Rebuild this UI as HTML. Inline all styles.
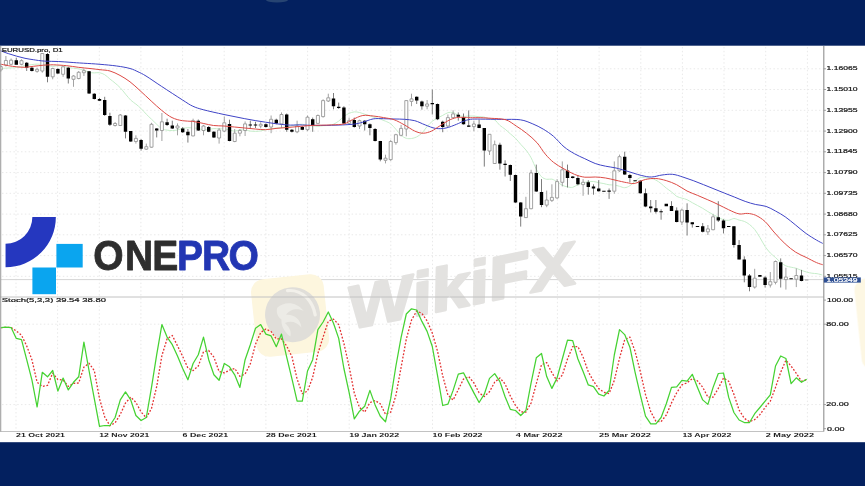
<!DOCTYPE html>
<html><head><meta charset="utf-8"><title>EURUSD.pro D1 - ONEPRO</title>
<style>html,body{margin:0;padding:0;background:#03205f;overflow:hidden}svg{display:block}</style>
</head><body>
<svg width="865" height="486" viewBox="0 0 865 486">
<rect width="865" height="486" fill="#03205f"/>
<ellipse cx="277" cy="0" rx="11" ry="2.6" fill="#2b4874" opacity="0.9"/>
<rect x="0" y="45.7" width="865" height="396.5" fill="#ffffff"/>
<g id="chart" filter="url(#bl)">
<path d="M2,68.8H823.8M2,89.5H823.8M2,110.3H823.8M2,131.1H823.8M2,151.8H823.8M2,172.6H823.8M2,193.3H823.8M2,214.1H823.8M2,234.8H823.8M2,255.6H823.8M2,276.3H823.8M2,324.2H823.8M2,404.6H823.8M16.0,47V296M16.0,298V431M57.6,47V296M57.6,298V431M99.3,47V296M99.3,298V431M140.9,47V296M140.9,298V431M182.6,47V296M182.6,298V431M224.2,47V296M224.2,298V431M265.9,47V296M265.9,298V431M307.6,47V296M307.6,298V431M349.2,47V296M349.2,298V431M390.8,47V296M390.8,298V431M432.5,47V296M432.5,298V431M474.1,47V296M474.1,298V431M515.8,47V296M515.8,298V431M557.4,47V296M557.4,298V431M599.1,47V296M599.1,298V431M640.8,47V296M640.8,298V431M682.4,47V296M682.4,298V431M724.0,47V296M724.0,298V431M765.7,47V296M765.7,298V431M807.4,47V296M807.4,298V431" stroke="#e9e9e9" stroke-width="1" stroke-dasharray="1.5 2.3" fill="none"/>
<path d="M1,279.6H823.8" stroke="#d6d6d6" stroke-width="1"/>
<g id="wm" opacity="1">
<g transform="translate(290,314.5) rotate(-6)"><rect x="-36.5" y="-38" width="73" height="78" rx="13" fill="#fdf6de"/><circle cx="2.5" cy="0.5" r="27.5" fill="#e0ded9"/><path d="M0,-24C14,-24 24,-12 25,3" stroke="#f2f0ea" stroke-width="3.2" fill="none" stroke-linecap="round"/><path d="M-12,-8C-4,-14 8,-12 14,-2C8,-6 0,-5 -4,0C4,0 10,6 10,14C6,8 0,6 -6,8C-2,12 0,18 -2,22C-8,16 -10,10 -9,4C-12,2 -14,-3 -12,-8Z" fill="#ecebe6"/></g>
<text transform="translate(352,329) rotate(-11.5)" font-family="Liberation Sans, sans-serif" font-weight="bold" font-style="italic" font-size="60" fill="#e3e2e0" stroke="#e3e2e0" stroke-width="2.4" stroke-linejoin="round" textLength="232" lengthAdjust="spacingAndGlyphs">WikiFX</text>
<rect x="857.5" y="279.5" width="40" height="92" rx="12" fill="#fdf7e3" transform="rotate(-6 858 320)"/>
</g>
<path d="M0.0,68.5C1.3,68.4 5.3,68.2 8.0,68.0C10.7,67.8 14.1,67.9 16.3,67.6C18.6,67.3 19.8,66.7 21.5,66.3C23.2,66.0 25.0,65.7 26.7,65.4C28.4,65.1 30.2,64.8 31.9,64.6C33.6,64.4 35.4,64.1 37.1,64.1C38.8,64.1 40.6,64.4 42.3,64.6C44.0,64.8 45.8,65.1 47.5,65.4C49.2,65.7 51.0,66.3 52.7,66.4C54.4,66.4 56.2,65.7 57.9,65.7C59.6,65.6 61.4,65.8 63.1,66.1C64.8,66.4 66.6,67.2 68.3,67.6C70.0,67.9 71.8,68.0 73.5,68.2C75.2,68.5 77.0,68.6 78.7,68.9C80.4,69.2 82.2,69.6 83.9,70.1C85.6,70.7 87.4,71.8 89.1,72.3C90.8,72.8 92.6,72.8 94.3,72.9C96.0,72.9 97.8,72.4 99.5,72.7C101.2,73.1 103.0,73.7 104.7,74.7C106.4,75.7 108.2,77.6 109.9,79.0C111.6,80.4 113.4,81.6 115.1,83.1C116.8,84.6 118.6,85.9 120.3,87.8C122.0,89.6 123.8,92.0 125.5,94.1C127.2,96.1 129.0,98.4 130.7,100.1C132.4,101.8 134.2,102.7 135.9,104.1C137.6,105.5 139.4,106.9 141.1,108.6C142.8,110.3 144.6,112.4 146.3,114.2C148.0,116.0 149.8,117.6 151.5,119.2C153.2,120.9 155.0,122.7 156.7,124.3C158.4,125.9 160.2,127.9 161.9,128.8C163.6,129.8 165.4,129.8 167.1,130.1C168.8,130.4 170.6,130.7 172.3,130.6C174.0,130.6 175.8,130.3 177.5,129.9C179.2,129.5 181.0,128.8 182.7,128.4C184.4,128.0 186.2,127.8 187.9,127.7C189.6,127.6 191.4,127.9 193.1,128.0C194.8,128.1 196.6,128.1 198.3,128.4C200.0,128.7 201.8,129.7 203.5,129.9C205.2,130.1 207.0,129.6 208.7,129.4C210.4,129.2 212.2,128.7 213.9,128.6C215.6,128.5 217.4,128.8 219.1,128.9C220.8,128.9 222.6,128.7 224.3,128.9C226.0,129.1 227.8,129.7 229.5,130.0C231.2,130.4 233.0,131.2 234.7,131.2C236.4,131.2 238.2,130.0 239.9,129.8C241.6,129.6 243.4,129.8 245.1,130.0C246.8,130.2 248.6,130.9 250.3,131.1C252.0,131.3 253.8,131.4 255.5,131.4C257.2,131.4 259.0,131.2 260.7,130.9C262.4,130.6 264.2,130.0 265.9,129.7C267.6,129.3 269.4,129.0 271.1,128.7C272.8,128.4 274.6,128.2 276.3,128.0C278.0,127.8 279.8,127.7 281.5,127.5C283.2,127.3 285.0,127.2 286.7,126.9C288.4,126.6 290.2,126.2 291.9,125.8C293.6,125.4 295.4,124.9 297.1,124.7C298.8,124.4 300.6,124.1 302.3,124.3C304.0,124.4 305.8,125.3 307.5,125.6C309.2,125.8 311.0,125.7 312.7,125.8C314.4,126.0 316.2,126.3 317.9,126.3C319.6,126.3 321.4,125.8 323.1,125.7C324.8,125.6 326.6,125.7 328.3,125.5C330.0,125.3 331.8,125.0 333.5,124.2C335.2,123.5 337.0,122.4 338.7,121.1C340.4,119.8 342.2,117.7 343.9,116.4C345.6,115.1 347.4,114.1 349.1,113.4C350.8,112.6 352.6,112.0 354.3,111.9C356.0,111.7 357.8,112.1 359.5,112.5C361.2,112.9 363.0,113.6 364.7,114.2C366.4,114.7 368.2,115.3 369.9,115.9C371.6,116.4 373.4,117.0 375.1,117.6C376.8,118.1 378.6,118.5 380.3,119.1C382.0,119.7 383.8,120.4 385.5,121.2C387.2,122.0 389.0,122.5 390.7,123.9C392.4,125.2 394.2,127.4 395.9,129.3C397.6,131.2 399.4,133.8 401.1,135.3C402.8,136.8 404.6,137.8 406.3,138.3C408.0,138.9 409.8,138.7 411.5,138.5C413.2,138.3 415.0,137.8 416.7,136.9C418.4,136.0 420.2,134.9 421.9,133.2C423.6,131.4 425.4,128.5 427.1,126.5C428.8,124.5 430.6,122.7 432.3,121.3C434.0,119.8 435.8,119.0 437.5,118.0C439.2,117.1 441.0,116.3 442.7,115.4C444.4,114.5 446.2,113.2 447.9,112.7C449.6,112.2 451.4,112.1 453.1,112.5C454.8,112.9 456.6,114.7 458.3,115.3C460.0,115.9 461.8,116.3 463.5,116.4C465.2,116.5 467.0,116.1 468.7,116.0C470.4,116.0 472.2,116.0 473.9,116.1C475.6,116.2 477.4,116.5 479.1,116.7C480.8,116.9 482.6,116.7 484.3,117.1C486.0,117.5 487.8,118.4 489.5,118.9C491.2,119.4 493.0,118.8 494.7,119.9C496.4,121.0 498.2,123.8 499.9,125.4C501.6,126.9 503.4,127.8 505.1,129.2C506.8,130.6 508.6,132.3 510.3,133.8C512.0,135.3 513.8,136.6 515.5,138.3C517.2,140.1 519.0,142.4 520.7,144.3C522.4,146.3 524.2,147.8 525.9,150.0C527.6,152.2 529.4,154.6 531.1,157.8C532.8,160.9 534.6,165.9 536.3,169.1C538.0,172.2 539.8,175.0 541.5,176.7C543.2,178.4 545.0,178.9 546.7,179.3C548.4,179.7 550.2,178.7 551.9,179.1C553.6,179.5 555.4,180.9 557.1,181.9C558.8,182.9 560.6,184.5 562.3,185.3C564.0,186.1 565.8,186.5 567.5,186.9C569.2,187.2 571.0,187.7 572.7,187.3C574.4,186.9 576.2,185.4 577.9,184.6C579.6,183.9 581.4,183.4 583.1,182.9C584.8,182.4 586.6,182.0 588.3,181.8C590.0,181.5 591.8,181.3 593.5,181.5C595.2,181.6 597.0,182.3 598.7,182.7C600.4,183.0 602.2,183.3 603.9,183.6C605.6,184.0 607.4,184.6 609.1,184.8C610.8,185.0 612.6,184.8 614.3,185.0C616.0,185.3 617.8,185.8 619.5,186.3C621.2,186.7 623.0,187.8 624.7,187.7C626.4,187.6 628.2,186.8 629.9,185.7C631.6,184.6 633.4,182.5 635.1,181.2C636.8,179.9 638.6,178.2 640.3,177.6C642.0,177.1 643.8,177.6 645.5,177.7C647.2,177.8 649.0,178.0 650.7,178.3C652.4,178.7 654.2,179.2 655.9,180.1C657.6,180.9 659.4,182.3 661.1,183.6C662.8,185.0 664.6,186.8 666.3,188.1C668.0,189.5 669.8,190.5 671.5,191.9C673.2,193.2 675.0,195.3 676.7,196.4C678.4,197.4 680.2,197.5 681.9,198.1C683.6,198.7 685.4,198.9 687.1,199.7C688.8,200.5 690.6,201.8 692.3,202.7C694.0,203.7 695.8,204.6 697.5,205.5C699.2,206.5 701.0,207.3 702.7,208.3C704.4,209.3 706.2,210.6 707.9,211.6C709.6,212.7 711.4,213.7 713.1,214.6C714.8,215.5 716.6,216.3 718.3,217.2C720.0,218.1 721.8,219.3 723.5,219.8C725.2,220.3 727.0,220.5 728.7,220.3C730.4,220.1 732.2,218.6 733.9,218.5C735.6,218.5 737.4,219.6 739.1,220.1C740.8,220.6 742.6,220.6 744.3,221.4C746.0,222.1 747.8,223.1 749.5,224.5C751.2,225.8 753.0,227.4 754.7,229.5C756.4,231.7 758.2,234.7 759.9,237.5C761.6,240.3 763.4,243.9 765.1,246.5C766.8,249.1 768.6,251.1 770.3,253.0C772.0,254.8 773.8,256.0 775.5,257.5C777.2,259.1 779.0,261.0 780.7,262.4C782.4,263.8 784.2,265.1 785.9,265.9C787.6,266.7 789.4,266.8 791.1,267.2C792.8,267.6 794.6,267.8 796.3,268.3C798.0,268.9 799.8,269.8 801.5,270.4C803.2,271.0 805.0,271.6 806.7,272.1C808.4,272.6 810.2,272.9 811.9,273.2C813.6,273.5 815.4,273.4 817.1,273.7C818.8,274.0 821.4,274.7 822.3,275.0" stroke="#c6edca" stroke-width="1" fill="none"/>
<rect x="805.0" y="279.5" width="3.4" height="1" fill="#999"/>
<path d="M0.7,64.0V66.5M0.7,70.0V72.0M5.9,56.0V60.5M5.9,65.0V66.5M11.1,58.5V60.2M11.1,64.3V65.2M21.5,59.3V60.7M21.5,64.3V65.2M37.1,67.7V69.3M37.1,71.3V72.7M42.3,53.0V53.5M42.3,71.0V72.7M52.7,67.7V68.5M52.7,76.8V79.3M63.1,66.0V66.8M63.1,74.3V76.8M73.5,75.2V76.0M73.5,79.3V86.8M78.7,71.0V72.3M78.7,78.5V79.3M83.9,68.5V70.7M83.9,72.7V76.0M115.1,122.0V123.5M115.1,125.5V126.5M120.3,114.0V115.0M120.3,125.5V126.0M135.9,135.3V138.4M135.9,141.5V143.6M146.3,143.6V146.7M146.3,149.2V150.0M151.5,122.8V124.3M151.5,147.2V147.8M161.9,113.0V121.8M161.9,130.5V141.0M177.5,123.4V126.0M177.5,128.0V135.3M193.1,118.7V120.7M193.1,135.9V136.3M203.5,124.9V126.0M203.5,130.5V135.3M219.1,128.0V130.1M219.1,138.0V143.6M224.3,116.6V122.8M224.3,131.1V132.2M234.7,129.0V133.2M234.7,141.5V142.2M239.9,129.0V130.5M239.9,133.2V136.3M245.1,121.4V123.9M245.1,130.5V136.0M260.7,122.2V124.3M260.7,126.0V128.4M271.1,115.5V119.3M271.1,127.0V133.2M281.5,112.4V114.5M281.5,123.9V128.0M297.1,120.7V126.0M297.1,131.8V133.2M307.5,115.5V117.2M307.5,129.7V131.1M317.9,114.5V115.5M317.9,123.4V123.9M323.1,99.3V100.6M323.1,116.6V117.6M328.3,93.7V97.8M328.3,101.0V102.0M349.1,117.6V120.7M349.1,123.4V124.3M359.5,119.7V120.7M359.5,126.0V129.0M385.5,154.7V158.2M385.5,160.3V163.4M390.7,140.1V141.5M390.7,159.6V160.9M395.9,133.8V134.7M395.9,142.6V144.7M401.1,124.9V128.4M401.1,135.3V136.3M406.3,100.0V100.6M406.3,129.0V136.3M411.5,93.7V98.9M411.5,101.4V106.2M427.1,100.0V104.0M427.1,106.2V109.3M447.9,114.5V117.6M447.9,126.0V127.0M453.1,110.3V113.9M453.1,117.6V118.7M473.9,120.8V124.0M473.9,126.6V131.2M489.5,134.0V134.3M489.5,151.0V155.0M494.7,140.6V144.7M494.7,163.5V164.0M525.9,196.8V208.7M525.9,217.6V218.0M531.1,169.8V172.9M531.1,208.7V209.3M546.7,190.6V200.0M546.7,205.1V207.2M551.9,184.3V197.4M551.9,200.4V202.0M557.1,179.1V181.6M557.1,197.9V198.9M562.3,161.4V169.8M562.3,182.3V186.4M583.1,179.1V182.3M583.1,184.6V195.8M614.3,161.4V170.8M614.3,191.2V193.7M619.5,154.6V156.7M619.5,170.8V171.8M681.9,208.5V210.1M681.9,222.0V225.0M707.9,225.0V228.9M707.9,231.8V235.0M713.1,214.3V216.8M713.1,229.7V230.3M754.7,268.8V278.2M754.7,287.1V288.6M770.3,272.0V281.7M770.3,285.0V287.5M775.5,260.5V261.5M775.5,282.3V284.4M785.9,267.8V277.1M785.9,279.6V289.6M796.3,268.4V275.5M796.3,279.2V287.1" stroke="#8c8c8c" stroke-width="0.8" fill="none"/>
<path d="M-0.8,66.5h3V70.0h-3ZM4.4,60.5h3V65.0h-3ZM9.6,60.2h3V64.3h-3ZM20.0,60.7h3V64.3h-3ZM35.6,69.3h3V71.3h-3ZM40.8,53.5h3V71.0h-3ZM51.2,68.5h3V76.8h-3ZM61.6,66.8h3V74.3h-3ZM72.0,76.0h3V79.3h-3ZM77.2,72.3h3V78.5h-3ZM82.4,70.7h3V72.7h-3ZM113.6,123.5h3V125.5h-3ZM118.8,115.0h3V125.5h-3ZM134.4,138.4h3V141.5h-3ZM144.8,146.7h3V149.2h-3ZM150.0,124.3h3V147.2h-3ZM160.4,121.8h3V130.5h-3ZM176.0,126.0h3V128.0h-3ZM191.6,120.7h3V135.9h-3ZM202.0,126.0h3V130.5h-3ZM217.6,130.1h3V138.0h-3ZM222.8,122.8h3V131.1h-3ZM233.2,133.2h3V141.5h-3ZM238.4,130.5h3V133.2h-3ZM243.6,123.9h3V130.5h-3ZM259.2,124.3h3V126.0h-3ZM269.6,119.3h3V127.0h-3ZM280.0,114.5h3V123.9h-3ZM295.6,126.0h3V131.8h-3ZM306.0,117.2h3V129.7h-3ZM316.4,115.5h3V123.4h-3ZM321.6,100.6h3V116.6h-3ZM326.8,97.8h3V101.0h-3ZM347.6,120.7h3V123.4h-3ZM358.0,120.7h3V126.0h-3ZM384.0,158.2h3V160.3h-3ZM389.2,141.5h3V159.6h-3ZM394.4,134.7h3V142.6h-3ZM399.6,128.4h3V135.3h-3ZM404.8,100.6h3V129.0h-3ZM410.0,98.9h3V101.4h-3ZM425.6,104.0h3V106.2h-3ZM446.4,117.6h3V126.0h-3ZM451.6,113.9h3V117.6h-3ZM472.4,124.0h3V126.6h-3ZM488.0,134.3h3V151.0h-3ZM493.2,144.7h3V163.5h-3ZM524.4,208.7h3V217.6h-3ZM529.6,172.9h3V208.7h-3ZM545.2,200.0h3V205.1h-3ZM550.4,197.4h3V200.4h-3ZM555.6,181.6h3V197.9h-3ZM560.8,169.8h3V182.3h-3ZM581.6,182.3h3V184.6h-3ZM612.8,170.8h3V191.2h-3ZM618.0,156.7h3V170.8h-3ZM680.4,210.1h3V222.0h-3ZM706.4,228.9h3V231.8h-3ZM711.6,216.8h3V229.7h-3ZM753.2,278.2h3V287.1h-3ZM768.8,281.7h3V285.0h-3ZM774.0,261.5h3V282.3h-3ZM784.4,277.1h3V279.6h-3ZM794.8,275.5h3V279.2h-3Z" stroke="#8c8c8c" stroke-width="0.8" fill="#ffffff"/>
<path d="M16.3,57.7V64.7M26.7,62.0V71.0M31.9,66.0V71.5M47.5,53.0V82.3M57.9,68.0V74.0M68.3,66.8V83.5M89.1,71.0V94.0M94.3,93.0V99.5M99.5,98.0V101.0M104.7,96.8V116.0M109.9,112.7V126.0M125.5,115.0V138.4M130.7,131.0V142.0M141.1,139.0V150.5M156.7,128.0V137.4M167.1,118.7V126.0M172.3,120.7V129.0M182.7,127.0V133.0M187.9,129.0V142.6M198.3,119.5V131.0M208.7,126.0V132.2M213.9,131.0V138.0M229.5,119.7V141.3M250.3,120.7V129.0M255.5,121.8V128.0M265.9,123.5V127.5M276.3,118.7V124.3M286.7,113.5V131.8M291.9,129.0V132.5M302.3,126.0V130.1M312.7,117.6V131.8M333.5,93.0V109.3M338.7,102.6V108.9M343.9,106.2V123.9M354.3,117.6V127.6M364.7,120.1V130.5M369.9,123.4V135.3M375.1,128.0V141.5M380.3,140.9V161.3M416.7,96.4V104.0M421.9,100.6V109.7M432.3,89.5V114.5M437.5,103.5V120.1M442.7,120.7V132.2M458.3,112.4V120.7M463.5,113.5V124.6M468.7,110.4V127.0M479.1,119.8V128.2M484.3,128.0V166.6M499.9,142.7V169.7M505.1,160.3V176.5M510.3,164.5V181.0M515.5,174.5V203.0M520.7,202.0V226.6M536.3,164.6V192.0M541.5,179.1V207.2M567.5,164.6V187.5M572.7,176.0V178.5M577.9,175.0V185.4M588.3,180.2V194.7M593.5,184.3V194.7M598.7,180.2V191.6M609.1,188.5V198.9M624.7,151.7V175.0M629.9,173.9V182.3M640.3,180.2V193.7M645.5,188.5V207.2M650.7,200.0V212.4M655.9,200.0V213.5M661.1,209.3V219.7M671.5,201.2V211.0M676.7,207.4V222.4M687.1,203.3V235.5M692.3,222.2V227.6M702.7,223.0V232.4M718.3,201.2V222.0M723.5,219.3V233.4M733.9,226.2V247.6M739.1,240.1V259.5M744.3,256.3V282.3M749.5,274.0V291.3M765.1,276.1V287.5M780.7,258.4V287.5M801.5,269.9V281.3" stroke="#5a5a5a" stroke-width="0.8" fill="none"/>
<path d="M14.6,60.2h3.4V64.7h-3.4ZM25.0,62.7h3.4V67.7h-3.4ZM30.2,67.7h3.4V71.0h-3.4ZM45.8,54.0h3.4V76.8h-3.4ZM56.2,69.0h3.4V73.5h-3.4ZM66.6,67.7h3.4V78.5h-3.4ZM87.4,71.3h3.4V93.5h-3.4ZM92.6,93.8h3.4V99.0h-3.4ZM97.8,99.0h3.4V100.7h-3.4ZM103.0,100.0h3.4V115.0h-3.4ZM108.2,116.0h3.4V124.7h-3.4ZM123.8,115.5h3.4V131.8h-3.4ZM129.0,131.1h3.4V141.5h-3.4ZM139.4,140.1h3.4V148.8h-3.4ZM155.0,128.4h3.4V130.5h-3.4ZM165.4,122.2h3.4V124.9h-3.4ZM170.6,125.5h3.4V128.4h-3.4ZM181.0,128.4h3.4V132.2h-3.4ZM186.2,131.8h3.4V135.3h-3.4ZM196.6,120.7h3.4V130.5h-3.4ZM207.0,127.0h3.4V131.8h-3.4ZM212.2,131.8h3.4V137.4h-3.4ZM227.8,123.9h3.4V140.9h-3.4ZM248.6,124.5h3.4V125.5h-3.4ZM253.8,124.5h3.4V125.5h-3.4ZM264.2,124.3h3.4V127.0h-3.4ZM274.6,119.7h3.4V123.4h-3.4ZM285.0,114.5h3.4V129.7h-3.4ZM290.2,129.7h3.4V131.8h-3.4ZM300.6,127.0h3.4V129.7h-3.4ZM311.0,119.3h3.4V126.0h-3.4ZM331.8,98.5h3.4V106.2h-3.4ZM337.0,106.8h3.4V108.0h-3.4ZM342.2,107.6h3.4V123.4h-3.4ZM352.6,120.1h3.4V127.0h-3.4ZM363.0,120.7h3.4V124.3h-3.4ZM368.2,124.3h3.4V128.0h-3.4ZM373.4,129.0h3.4V140.9h-3.4ZM378.6,140.9h3.4V159.6h-3.4ZM415.0,96.8h3.4V100.6h-3.4ZM420.2,101.4h3.4V106.2h-3.4ZM430.6,103.0h3.4V104.3h-3.4ZM435.8,104.0h3.4V119.3h-3.4ZM441.0,121.8h3.4V127.0h-3.4ZM456.6,114.7h3.4V116.8h-3.4ZM461.8,117.2h3.4V124.3h-3.4ZM467.0,125.4h3.4V126.7h-3.4ZM477.4,124.5h3.4V128.0h-3.4ZM482.6,128.0h3.4V150.4h-3.4ZM498.2,144.7h3.4V163.5h-3.4ZM503.4,163.7h3.4V165.0h-3.4ZM508.6,165.0h3.4V174.8h-3.4ZM513.8,175.0h3.4V202.4h-3.4ZM519.0,202.4h3.4V216.6h-3.4ZM534.6,172.9h3.4V191.6h-3.4ZM539.8,192.0h3.4V205.1h-3.4ZM565.8,170.4h3.4V178.1h-3.4ZM571.0,176.6h3.4V177.9h-3.4ZM576.2,178.1h3.4V184.3h-3.4ZM586.6,182.3h3.4V187.0h-3.4ZM591.8,186.4h3.4V188.5h-3.4ZM597.0,188.5h3.4V191.2h-3.4ZM602.2,190.7h3.4V191.7h-3.4ZM607.4,190.5h3.4V191.7h-3.4ZM623.0,156.7h3.4V174.6h-3.4ZM628.2,175.0h3.4V178.1h-3.4ZM633.4,180.3h3.4V181.3h-3.4ZM638.6,180.8h3.4V193.3h-3.4ZM643.8,193.3h3.4V206.6h-3.4ZM649.0,206.6h3.4V208.3h-3.4ZM654.2,208.3h3.4V211.8h-3.4ZM659.4,211.3h3.4V212.3h-3.4ZM664.6,203.7h3.4V206.2h-3.4ZM669.8,206.0h3.4V211.0h-3.4ZM675.0,210.6h3.4V222.0h-3.4ZM685.4,210.1h3.4V222.6h-3.4ZM690.6,222.2h3.4V224.3h-3.4ZM695.8,225.9h3.4V226.9h-3.4ZM701.0,226.2h3.4V231.8h-3.4ZM716.6,217.2h3.4V220.5h-3.4ZM721.8,220.5h3.4V228.2h-3.4ZM727.0,225.9h3.4V226.9h-3.4ZM732.2,226.2h3.4V244.9h-3.4ZM737.4,244.9h3.4V259.5h-3.4ZM742.6,259.5h3.4V275.5h-3.4ZM747.8,275.5h3.4V287.1h-3.4ZM758.2,275.0h3.4V276.7h-3.4ZM763.4,277.6h3.4V285.0h-3.4ZM779.0,262.2h3.4V278.8h-3.4ZM789.4,278.3h3.4V279.3h-3.4ZM799.8,275.5h3.4V280.9h-3.4Z" fill="#000000"/>
<path d="M0.0,50.6C1.4,51.1 5.5,52.7 8.3,53.6C11.1,54.5 13.9,55.4 16.7,56.2C19.5,57.0 22.2,57.7 25.0,58.3C27.8,58.9 30.1,59.2 33.3,59.7C36.5,60.2 40.2,60.8 44.4,61.1C48.6,61.4 54.0,61.3 58.3,61.5C62.6,61.7 65.8,62.0 70.0,62.3C74.2,62.6 78.3,62.9 83.3,63.2C88.3,63.5 94.4,63.8 100.0,64.3C105.6,64.8 111.7,65.3 116.7,66.0C121.7,66.7 126.5,67.5 130.0,68.5C133.6,69.5 135.3,70.5 138.0,71.8C140.7,73.0 142.1,73.6 146.0,76.0C149.9,78.4 155.5,82.4 161.6,86.4C167.7,90.4 177.2,96.6 182.4,99.9C187.6,103.2 189.3,104.6 192.8,106.2C196.3,107.8 198.0,108.3 203.2,109.7C208.4,111.1 217.1,113.0 224.0,114.5C230.9,116.0 237.9,117.4 244.8,118.7C251.7,120.0 258.7,121.2 265.6,122.2C272.5,123.2 280.7,124.5 286.4,124.9C292.1,125.4 295.9,124.8 300.0,124.9C304.1,125.0 305.5,125.2 310.8,125.3C316.1,125.4 324.7,125.5 331.6,125.3C338.5,125.1 347.2,124.8 352.4,124.3C357.6,123.8 359.3,123.1 362.8,122.2C366.3,121.3 369.7,119.5 373.2,118.9C376.7,118.3 380.1,118.7 383.6,118.7C387.1,118.7 390.5,118.9 394.0,119.0C397.5,119.1 400.9,119.0 404.4,119.3C407.9,119.6 411.3,119.8 414.8,120.7C418.3,121.6 421.7,123.6 425.2,124.9C428.7,126.2 432.1,127.9 435.6,128.4C439.1,128.9 442.5,128.7 446.0,128.0C449.5,127.3 453.7,125.4 456.5,124.3C459.3,123.2 460.7,122.3 463.0,121.5C465.3,120.7 467.4,119.7 470.4,119.3C473.4,118.9 475.6,119.1 480.8,119.1C486.0,119.1 495.0,119.3 501.6,119.4C508.2,119.5 515.1,119.0 520.3,119.8C525.5,120.5 529.0,122.4 532.8,123.9C536.6,125.5 539.7,127.0 543.2,129.1C546.7,131.2 550.1,133.4 553.6,136.4C557.1,139.4 560.5,143.9 564.0,146.8C567.5,149.7 570.9,151.7 574.4,153.7C577.9,155.7 581.3,157.1 584.8,158.7C588.3,160.3 591.7,162.2 595.2,163.5C598.7,164.8 602.1,165.4 605.6,166.2C609.1,166.9 612.5,167.2 616.0,168.0C619.5,168.8 622.3,169.8 626.5,171.0C630.7,172.2 637.0,174.4 641.2,175.4C645.4,176.4 648.1,177.1 651.6,177.0C655.1,176.9 658.5,175.4 662.0,175.0C665.5,174.6 668.9,174.0 672.4,174.3C675.9,174.6 679.3,175.9 682.8,177.0C686.3,178.1 689.7,179.3 693.2,180.6C696.7,181.9 700.1,183.3 703.6,184.7C707.1,186.1 710.5,187.5 714.0,188.9C717.5,190.3 720.9,191.7 724.4,193.1C727.9,194.5 731.3,195.8 734.8,197.2C738.3,198.6 741.7,200.2 745.2,201.4C748.7,202.6 752.2,203.7 755.7,204.5C759.2,205.3 762.8,205.3 766.1,206.4C769.4,207.5 772.3,209.3 775.5,211.0C778.7,212.7 781.8,214.5 785.2,216.8C788.6,219.2 792.2,222.3 795.7,225.1C799.2,227.9 802.6,231.0 806.1,233.5C809.6,236.0 813.7,238.4 816.5,240.1C819.3,241.8 821.7,242.8 822.7,243.4" stroke="#3f44c6" stroke-width="1.0" fill="none"/>
<path d="M0.0,64.0C1.4,64.3 5.5,65.2 8.3,65.7C11.1,66.2 13.9,66.5 16.7,66.8C19.5,67.1 22.2,67.4 25.0,67.3C27.8,67.2 30.2,66.6 33.3,66.3C36.3,66.0 40.0,65.5 43.3,65.2C46.6,65.0 49.4,64.7 53.3,64.8C57.2,64.9 62.5,65.3 66.7,65.7C70.9,66.1 74.4,66.8 78.3,67.3C82.2,67.8 86.4,68.1 90.0,68.5C93.6,68.9 96.7,69.3 100.0,69.7C103.3,70.1 106.7,70.0 110.0,71.0C113.3,72.0 116.7,73.6 120.0,75.4C123.3,77.2 126.7,79.3 130.0,81.8C133.3,84.3 136.5,87.4 140.0,90.6C143.5,93.8 147.6,97.7 151.2,101.0C154.8,104.3 158.1,107.5 161.6,110.3C165.1,113.1 168.5,115.9 172.0,117.6C175.5,119.3 178.9,120.1 182.4,120.7C185.9,121.3 189.3,121.0 192.8,121.4C196.3,121.9 199.7,122.7 203.2,123.4C206.7,124.1 210.1,125.1 213.6,125.5C217.1,125.9 220.5,125.8 224.0,126.0C227.5,126.2 230.9,126.7 234.4,127.0C237.9,127.3 241.3,127.7 244.8,128.0C248.3,128.3 251.7,128.7 255.2,129.0C258.7,129.3 262.1,129.8 265.6,129.7C269.1,129.6 272.5,128.8 276.0,128.4C279.5,128.1 282.7,127.9 286.4,127.6C290.1,127.3 293.9,126.9 298.0,126.6C302.1,126.2 305.2,125.8 310.8,125.5C316.4,125.2 326.1,125.2 331.6,124.9C337.1,124.6 340.5,124.8 344.0,123.9C347.5,123.0 349.3,121.1 352.4,119.7C355.5,118.3 359.3,116.1 362.8,115.5C366.3,114.9 369.7,115.7 373.2,116.0C376.7,116.3 380.1,117.0 383.6,117.6C387.1,118.2 390.5,118.5 394.0,119.7C397.5,120.9 400.9,123.0 404.4,124.9C407.9,126.8 411.7,129.7 414.8,131.1C417.9,132.5 420.4,133.2 423.2,133.2C426.0,133.2 428.7,132.3 431.5,131.1C434.3,129.9 437.0,127.6 439.8,125.9C442.6,124.2 445.3,122.1 448.1,120.7C450.9,119.3 453.7,118.1 456.5,117.6C459.3,117.0 462.7,117.4 465.0,117.4C467.3,117.4 467.8,117.7 470.4,117.7C473.0,117.8 477.3,117.6 480.8,117.7C484.3,117.8 487.0,118.0 491.2,118.3C495.4,118.6 501.6,118.5 505.8,119.8C510.0,121.1 512.7,123.8 516.2,126.0C519.7,128.2 523.1,130.5 526.6,133.3C530.1,136.1 533.9,139.2 537.0,142.7C540.1,146.2 542.5,150.8 545.3,154.1C548.1,157.4 550.5,159.9 553.6,162.4C556.7,164.9 560.5,166.9 564.0,168.9C567.5,170.9 570.9,172.9 574.4,174.3C577.9,175.7 581.3,176.8 584.8,177.2C588.3,177.6 591.7,176.9 595.2,177.0C598.7,177.1 602.1,177.4 605.6,178.0C609.1,178.6 612.5,179.5 616.0,180.3C619.5,181.1 623.7,182.1 626.5,182.6C629.3,183.1 631.2,183.6 633.0,183.6C634.8,183.6 634.9,183.4 637.0,182.7C639.1,182.0 642.3,180.2 645.4,179.5C648.5,178.8 652.3,178.3 655.8,178.5C659.3,178.7 662.7,179.6 666.2,180.6C669.7,181.6 673.1,183.0 676.6,184.7C680.1,186.4 683.5,189.2 687.0,191.0C690.5,192.8 693.9,193.8 697.4,195.3C700.9,196.8 704.3,198.3 707.8,199.8C711.3,201.3 714.7,202.8 718.2,204.5C721.7,206.2 725.1,208.1 728.6,209.7C732.1,211.3 735.9,213.3 739.0,213.9C742.1,214.5 744.5,213.2 747.3,213.4C750.1,213.6 752.8,214.0 755.7,215.3C758.7,216.7 761.8,218.6 765.0,221.5C768.2,224.4 771.4,229.3 774.8,233.0C778.2,236.7 781.7,240.7 785.2,243.9C788.7,247.1 792.2,249.9 795.7,252.2C799.2,254.4 802.6,255.7 806.1,257.4C809.6,259.1 813.7,261.4 816.5,262.6C819.3,263.8 821.7,264.4 822.7,264.7" stroke="#dc4a45" stroke-width="1.0" fill="none"/>
<path d="M0.7,327.6L5.9,327.4L11.1,327.4L16.3,331.0L21.5,335.2L26.7,345.9L31.9,359.7L37.1,382.2L42.3,386.4L47.5,385.4L52.7,373.2L57.9,379.5L63.1,379.9L68.3,386.4L73.5,383.4L78.7,383.0L83.9,367.1L89.1,363.3L94.3,370.6L99.5,398.7L104.7,416.8L109.9,425.8L115.1,422.8L120.3,414.3L125.5,403.1L130.7,397.2L135.9,402.4L141.1,412.0L146.3,417.8L151.5,408.5L156.7,386.5L161.9,355.6L167.1,338.8L172.3,335.5L177.5,345.9L182.7,356.4L187.9,368.1L193.1,370.6L198.3,366.0L203.5,351.8L208.7,350.5L213.9,357.2L219.1,371.6L224.3,372.9L229.5,370.2L234.7,368.4L239.9,376.3L245.1,374.0L250.3,363.9L255.5,344.2L260.7,332.5L265.9,329.0L271.1,331.5L276.3,338.9L281.5,338.9L286.7,346.0L291.9,356.6L297.1,379.0L302.3,393.7L307.5,391.1L312.7,377.3L317.9,353.4L323.1,337.1L328.3,321.2L333.5,319.1L338.7,324.6L343.9,343.4L349.1,366.4L354.3,393.2L359.5,407.5L364.7,412.1L369.9,402.6L375.1,400.5L380.3,403.8L385.5,414.3L390.7,412.2L395.9,395.5L401.1,367.4L406.3,339.1L411.5,320.1L416.7,310.9L421.9,313.4L427.1,320.9L432.3,333.1L437.5,351.1L442.7,375.8L447.9,395.0L453.1,400.0L458.3,389.6L463.5,379.1L468.7,376.6L473.9,382.9L479.1,392.8L484.3,396.5L489.5,391.7L494.7,382.1L499.9,377.9L505.1,384.0L510.3,395.9L515.5,405.5L520.7,411.8L525.9,412.2L531.1,403.0L536.3,383.7L541.5,364.7L546.7,362.6L551.9,372.8L557.1,381.0L562.3,375.1L567.5,359.0L572.7,346.6L577.9,346.6L583.1,357.1L588.3,371.8L593.5,381.1L598.7,388.6L603.9,392.3L609.1,393.6L614.3,380.5L619.5,358.4L624.7,339.7L629.9,337.1L635.1,351.4L640.3,371.5L645.5,394.5L650.7,411.6L655.9,421.3L661.1,421.7L666.3,415.0L671.5,402.9L676.7,392.7L681.9,384.9L687.1,382.8L692.3,378.6L697.5,380.9L702.7,387.2L707.9,397.2L713.1,397.2L718.3,388.4L723.5,378.0L728.7,381.3L733.9,394.3L739.1,410.0L744.3,418.3L749.5,421.7L754.7,419.6L759.9,414.6L765.1,407.5L770.3,401.2L775.5,387.4L780.7,372.3L785.9,360.2L791.1,366.0L796.3,373.3L801.5,381.2L806.7,379.8" stroke="#e33030" stroke-width="1.3" stroke-dasharray="1.8 1.7" fill="none" stroke-linejoin="round"/>
<path d="M0.7,327.6L5.9,327.1L11.1,327.6L16.3,338.4L21.5,339.6L26.7,359.7L31.9,379.8L37.1,407.0L42.3,372.3L47.5,376.8L52.7,370.5L57.9,391.1L63.1,378.1L68.3,389.9L73.5,382.3L78.7,376.8L83.9,342.1L89.1,371.0L94.3,398.7L99.5,426.3L104.7,425.5L109.9,425.5L115.1,417.5L120.3,399.9L125.5,391.9L130.7,399.9L135.9,415.5L141.1,420.5L146.3,417.5L151.5,387.4L156.7,354.7L161.9,324.6L167.1,337.1L172.3,344.7L177.5,356.0L182.7,368.5L187.9,379.8L193.1,363.5L198.3,354.7L203.5,337.1L208.7,359.7L213.9,374.8L219.1,380.3L224.3,363.5L229.5,366.8L234.7,374.8L239.9,387.4L245.1,359.7L250.3,344.7L255.5,328.3L260.7,324.6L265.9,334.1L271.1,335.9L276.3,346.7L281.5,334.1L286.7,357.2L291.9,378.6L297.1,401.2L302.3,401.2L307.5,371.0L312.7,359.7L317.9,329.6L323.1,322.0L328.3,312.0L333.5,323.3L338.7,338.4L343.9,368.5L349.1,392.4L354.3,418.8L359.5,411.2L364.7,406.2L369.9,390.4L375.1,404.9L380.3,416.2L385.5,421.8L390.7,398.7L395.9,366.0L401.1,337.4L406.3,314.0L411.5,308.8L416.7,310.0L421.9,321.4L427.1,331.4L432.3,346.5L437.5,375.4L442.7,405.5L447.9,404.2L453.1,390.4L458.3,374.1L463.5,372.8L468.7,382.9L473.9,392.9L479.1,402.5L484.3,394.2L489.5,378.4L494.7,373.6L499.9,381.6L505.1,396.7L510.3,409.3L515.5,410.5L520.7,415.5L525.9,410.5L531.1,382.9L536.3,357.8L541.5,353.5L546.7,376.6L551.9,388.4L557.1,377.9L562.3,359.0L567.5,340.2L572.7,340.7L577.9,359.0L583.1,371.6L588.3,384.9L593.5,386.7L598.7,394.2L603.9,396.0L609.1,390.5L614.3,355.0L619.5,329.6L624.7,334.6L629.9,347.2L635.1,372.3L640.3,394.9L645.5,416.2L650.7,423.8L655.9,423.8L661.1,417.5L666.3,403.7L671.5,387.4L676.7,386.9L681.9,380.3L687.1,381.1L692.3,374.3L697.5,387.4L702.7,399.9L707.9,404.4L713.1,387.4L718.3,373.5L723.5,373.0L728.7,397.4L733.9,412.5L739.1,420.0L744.3,422.5L749.5,422.5L754.7,413.7L759.9,407.5L765.1,401.2L770.3,394.9L775.5,366.0L780.7,356.0L785.9,358.5L791.1,383.6L796.3,377.8L801.5,382.3L806.7,379.3" stroke="#45d232" stroke-width="1.25" fill="none" stroke-linejoin="round"/>
<path d="M0,431.5H823.8M0,297H823.8" stroke="#c2c2c2" stroke-width="1" fill="none"/>
<path d="M823.8,46V431.5" stroke="#959595" stroke-width="1.15" fill="none"/>
<path d="M0.7,46V431.5" stroke="#a0a0a0" stroke-width="1.1" fill="none"/>
<path d="M823.8,68.8h2.2M823.8,89.5h2.2M823.8,110.3h2.2M823.8,131.1h2.2M823.8,151.8h2.2M823.8,172.6h2.2M823.8,193.3h2.2M823.8,214.1h2.2M823.8,234.8h2.2M823.8,255.6h2.2M823.8,276.3h2.2M823.8,300.1h2.2M823.8,324.2h2.2M823.8,404.6h2.2M823.8,428.7h2.2" stroke="#8a8a8a" stroke-width="0.8"/>
<text x="826.5" y="70.4" font-family="Liberation Sans, sans-serif" font-size="5.6" font-weight="normal" fill="#1c1c1c" stroke="#1c1c1c" stroke-width="0.22" textLength="31" lengthAdjust="spacingAndGlyphs">1.16065</text>
<text x="826.5" y="91.1" font-family="Liberation Sans, sans-serif" font-size="5.6" font-weight="normal" fill="#1c1c1c" stroke="#1c1c1c" stroke-width="0.22" textLength="31" lengthAdjust="spacingAndGlyphs">1.15010</text>
<text x="826.5" y="111.9" font-family="Liberation Sans, sans-serif" font-size="5.6" font-weight="normal" fill="#1c1c1c" stroke="#1c1c1c" stroke-width="0.22" textLength="31" lengthAdjust="spacingAndGlyphs">1.13955</text>
<text x="826.5" y="132.7" font-family="Liberation Sans, sans-serif" font-size="5.6" font-weight="normal" fill="#1c1c1c" stroke="#1c1c1c" stroke-width="0.22" textLength="31" lengthAdjust="spacingAndGlyphs">1.12900</text>
<text x="826.5" y="153.4" font-family="Liberation Sans, sans-serif" font-size="5.6" font-weight="normal" fill="#1c1c1c" stroke="#1c1c1c" stroke-width="0.22" textLength="31" lengthAdjust="spacingAndGlyphs">1.11845</text>
<text x="826.5" y="174.2" font-family="Liberation Sans, sans-serif" font-size="5.6" font-weight="normal" fill="#1c1c1c" stroke="#1c1c1c" stroke-width="0.22" textLength="31" lengthAdjust="spacingAndGlyphs">1.10790</text>
<text x="826.5" y="194.9" font-family="Liberation Sans, sans-serif" font-size="5.6" font-weight="normal" fill="#1c1c1c" stroke="#1c1c1c" stroke-width="0.22" textLength="31" lengthAdjust="spacingAndGlyphs">1.09735</text>
<text x="826.5" y="215.7" font-family="Liberation Sans, sans-serif" font-size="5.6" font-weight="normal" fill="#1c1c1c" stroke="#1c1c1c" stroke-width="0.22" textLength="31" lengthAdjust="spacingAndGlyphs">1.08680</text>
<text x="826.5" y="236.4" font-family="Liberation Sans, sans-serif" font-size="5.6" font-weight="normal" fill="#1c1c1c" stroke="#1c1c1c" stroke-width="0.22" textLength="31" lengthAdjust="spacingAndGlyphs">1.07625</text>
<text x="826.5" y="257.2" font-family="Liberation Sans, sans-serif" font-size="5.6" font-weight="normal" fill="#1c1c1c" stroke="#1c1c1c" stroke-width="0.22" textLength="31" lengthAdjust="spacingAndGlyphs">1.06570</text>
<text x="826.5" y="277.9" font-family="Liberation Sans, sans-serif" font-size="5.6" font-weight="normal" fill="#1c1c1c" stroke="#1c1c1c" stroke-width="0.22" textLength="31" lengthAdjust="spacingAndGlyphs">1.05515</text>
<text x="826.9" y="301.9" font-family="Liberation Sans, sans-serif" font-size="5.6" font-weight="normal" fill="#1c1c1c" stroke="#1c1c1c" stroke-width="0.22" textLength="26.2" lengthAdjust="spacingAndGlyphs">100.00</text>
<text x="826.3" y="326.0" font-family="Liberation Sans, sans-serif" font-size="5.6" font-weight="normal" fill="#1c1c1c" stroke="#1c1c1c" stroke-width="0.22" textLength="22.5" lengthAdjust="spacingAndGlyphs">80.00</text>
<text x="826.3" y="406.4" font-family="Liberation Sans, sans-serif" font-size="5.6" font-weight="normal" fill="#1c1c1c" stroke="#1c1c1c" stroke-width="0.22" textLength="22.5" lengthAdjust="spacingAndGlyphs">20.00</text>
<text x="826.9" y="430.5" font-family="Liberation Sans, sans-serif" font-size="5.6" font-weight="normal" fill="#1c1c1c" stroke="#1c1c1c" stroke-width="0.22" textLength="17.5" lengthAdjust="spacingAndGlyphs">0.00</text>
<rect x="823.8" y="277.4" width="37" height="5.2" fill="#2d4f93"/>
<text x="826.5" y="282.0" font-family="Liberation Sans, sans-serif" font-size="5.6" font-weight="normal" fill="#ffffff" stroke="#ffffff" stroke-width="0.22" textLength="31" lengthAdjust="spacingAndGlyphs">1.05349</text>
<text x="16.0" y="437.2" font-family="Liberation Sans, sans-serif" font-size="5.9" font-weight="bold" fill="#1c1c1c" stroke="#1c1c1c" stroke-width="0" textLength="49" lengthAdjust="spacingAndGlyphs">21 Oct 2021</text>
<text x="99.3" y="437.2" font-family="Liberation Sans, sans-serif" font-size="5.9" font-weight="bold" fill="#1c1c1c" stroke="#1c1c1c" stroke-width="0" textLength="50" lengthAdjust="spacingAndGlyphs">12 Nov 2021</text>
<text x="182.6" y="437.2" font-family="Liberation Sans, sans-serif" font-size="5.9" font-weight="bold" fill="#1c1c1c" stroke="#1c1c1c" stroke-width="0" textLength="45.6" lengthAdjust="spacingAndGlyphs">6 Dec 2021</text>
<text x="265.9" y="437.2" font-family="Liberation Sans, sans-serif" font-size="5.9" font-weight="bold" fill="#1c1c1c" stroke="#1c1c1c" stroke-width="0" textLength="50.7" lengthAdjust="spacingAndGlyphs">28 Dec 2021</text>
<text x="349.2" y="437.2" font-family="Liberation Sans, sans-serif" font-size="5.9" font-weight="bold" fill="#1c1c1c" stroke="#1c1c1c" stroke-width="0" textLength="50" lengthAdjust="spacingAndGlyphs">19 Jan 2022</text>
<text x="432.5" y="437.2" font-family="Liberation Sans, sans-serif" font-size="5.9" font-weight="bold" fill="#1c1c1c" stroke="#1c1c1c" stroke-width="0" textLength="50" lengthAdjust="spacingAndGlyphs">10 Feb 2022</text>
<text x="515.8" y="437.2" font-family="Liberation Sans, sans-serif" font-size="5.9" font-weight="bold" fill="#1c1c1c" stroke="#1c1c1c" stroke-width="0" textLength="46.7" lengthAdjust="spacingAndGlyphs">4 Mar 2022</text>
<text x="599.1" y="437.2" font-family="Liberation Sans, sans-serif" font-size="5.9" font-weight="bold" fill="#1c1c1c" stroke="#1c1c1c" stroke-width="0" textLength="51.7" lengthAdjust="spacingAndGlyphs">25 Mar 2022</text>
<text x="682.4" y="437.2" font-family="Liberation Sans, sans-serif" font-size="5.9" font-weight="bold" fill="#1c1c1c" stroke="#1c1c1c" stroke-width="0" textLength="49" lengthAdjust="spacingAndGlyphs">13 Apr 2022</text>
<text x="765.6999999999999" y="437.2" font-family="Liberation Sans, sans-serif" font-size="5.9" font-weight="bold" fill="#1c1c1c" stroke="#1c1c1c" stroke-width="0" textLength="48.3" lengthAdjust="spacingAndGlyphs">2 May 2022</text>
<text x="1.7" y="52.2" font-family="Liberation Sans, sans-serif" font-size="6" font-weight="normal" fill="#1c1c1c" stroke="#1c1c1c" stroke-width="0.22" textLength="61" lengthAdjust="spacingAndGlyphs">EURUSD.pro, D1</text>
<text x="1.7" y="302.2" font-family="Liberation Sans, sans-serif" font-size="6" font-weight="normal" fill="#1c1c1c" stroke="#1c1c1c" stroke-width="0.22" textLength="104.3" lengthAdjust="spacingAndGlyphs">Stoch(5,3,3) 39.54 38.80</text>
</g>
<g id="logo">
<path d="M32.35,217.0H55.85A50.3,50.3 0 0 1 5.55,267.30V243.80A26.8,26.8 0 0 0 32.35,217.0Z" fill="#2537bf"/>
<rect x="56.4" y="243.9" width="26.3" height="23.6" fill="#0aa5ef"/>
<rect x="32.4" y="267.5" width="23.6" height="26.7" fill="#0aa5ef"/>
<g transform="scale(0.93,1)"><text x="100.24 134.41 163.74 190.25 217.13 245.67" y="270" font-family="Liberation Sans, sans-serif" font-weight="bold" font-size="42" stroke-width="0.8" stroke-linejoin="round"><tspan fill="#2e2e2e" stroke="#2e2e2e">ONE</tspan><tspan fill="#2236b3" stroke="#2236b3">PRO</tspan></text></g>
</g>
<defs><filter id="bl" x="0" y="0" width="100%" height="100%"><feGaussianBlur stdDeviation="0.42"/></filter></defs>
</svg>
</body></html>
